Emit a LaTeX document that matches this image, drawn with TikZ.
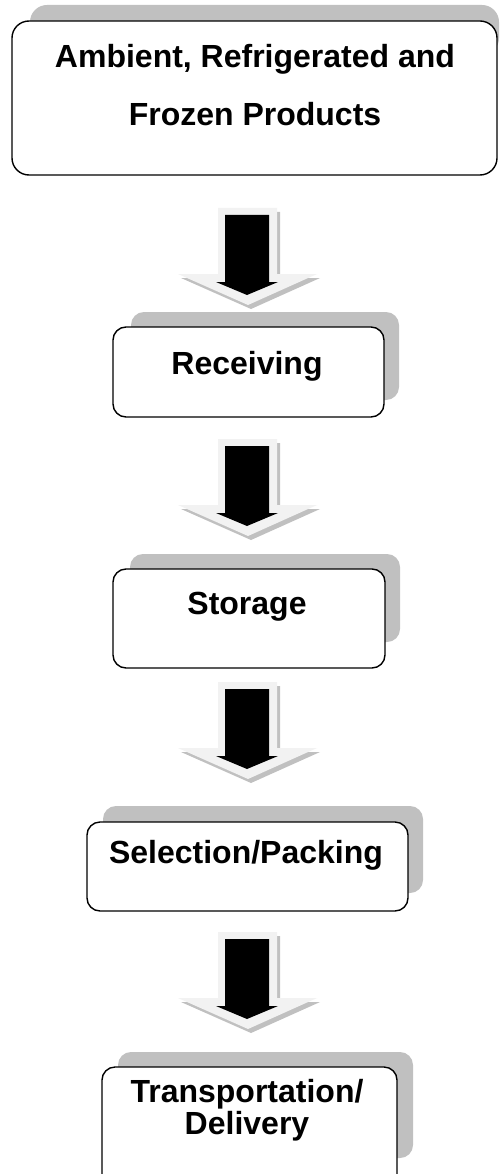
\documentclass[tikz,border=0pt]{standalone}
\usepackage{fontspec}
\setmainfont{Liberation Sans}
\definecolor{boxshade}{HTML}{C0C0C0}
\definecolor{arrowback}{HTML}{F2F2F2}
\begin{document}
\begin{tikzpicture}[x=1pt,y=-1pt,
  mainbox/.style={draw=black, line width=1.4pt, fill=white, rounded corners=13pt, inner sep=0pt},
  shadowbox/.style={fill=boxshade, rounded corners=13pt, inner sep=0pt},
  lbl/.style={font=\fontsize{32}{32}\selectfont\bfseries, inner sep=0pt, anchor=base},
  blockarrow/.pic={
    \fill[boxshade] (3,4) -- (62,4) -- (62,70) -- (102,70) -- (33,101) -- (-37,70) -- (3,70) -- cycle;
    \fill[arrowback] (0,0) -- (59,0) -- (59,66) -- (99,66) -- (30,97) -- (-40,66) -- (0,66) -- cycle;
    \fill[black] (7,7) -- (51,7) -- (51,74) -- (60,74) -- (29,87) -- (-2,74) -- (7,74) -- cycle;
  }]
\useasboundingbox (0,0) rectangle (500,1174);
\clip (0,0) rectangle (500,1174);
\fill[white] (0,0) rectangle (500,1174);

% top box
\node[shadowbox, rounded corners=17pt, minimum width=469pt, minimum height=50pt] (s0) at (264.5,30) {};
\node[mainbox, rounded corners=17pt, minimum width=485pt, minimum height=154pt] (b0) at (254.5,98) {};
\node[lbl] (t0a) at (255,68) {Ambient, Refrigerated and};
\node[lbl] (t0b) at (255,126) {Frozen Products};

% receiving
\node[shadowbox, minimum width=268pt, minimum height=88pt] (s1) at (265,356) {};
\node[mainbox, minimum width=271pt, minimum height=90pt] (b1) at (248.5,372) {};
\node[lbl] (t1) at (247,374) {Receiving};

% storage
\node[shadowbox, minimum width=270pt, minimum height=88pt] (s2) at (265,598) {};
\node[mainbox, minimum width=272pt, minimum height=99pt] (b2) at (249,618.5) {};
\node[lbl] (t2) at (247,614) {Storage};

% selection
\node[shadowbox, minimum width=320pt, minimum height=87pt] (s3) at (263,849.5) {};
\node[mainbox, minimum width=321pt, minimum height=89pt] (b3) at (247.5,866.5) {};
\node[lbl] (t3) at (246,863) {Selection/Packing};

% transportation
\node[shadowbox, minimum width=295pt, minimum height=106pt] (s4) at (265.5,1105) {};
\node[mainbox, minimum width=295pt, minimum height=123pt] (b4) at (249.5,1128.5) {};
\node[lbl] (t4a) at (247,1102) {Transportation/};
\node[lbl] (t4b) at (247,1134) {Delivery};

% arrows
\pic at (218,208) {blockarrow};
\pic at (218,439) {blockarrow};
\pic at (218,682) {blockarrow};
\pic at (218,932) {blockarrow};
\end{tikzpicture}
\end{document}
